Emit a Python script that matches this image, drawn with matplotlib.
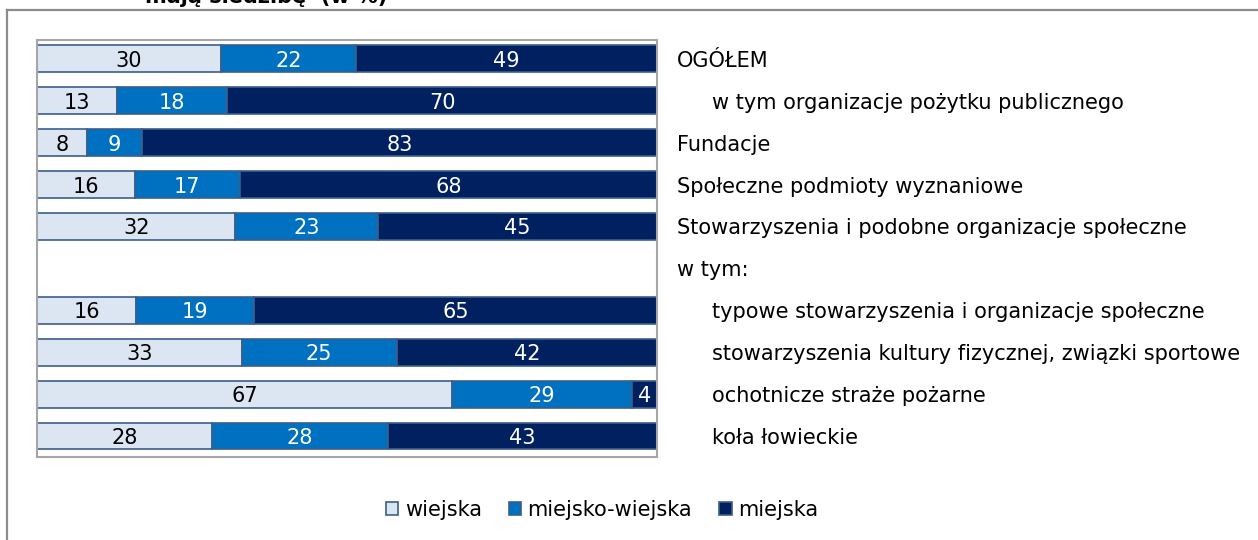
import numpy as np
import matplotlib

matplotlib.use("Agg")
import matplotlib.pyplot as plt
from matplotlib.lines import Line2D
from matplotlib.patches import Patch

# Organizacje wg typu gminy siedziby (w %)
categories = [
    "OGÓŁEM",
    "w tym organizacje pożytku publicznego",
    "Fundacje",
    "Społeczne podmioty wyznaniowe",
    "Stowarzyszenia i podobne organizacje społeczne",
    "w tym:",
    "typowe stowarzyszenia i organizacje społeczne",
    "stowarzyszenia kultury fizycznej, związki sportowe",
    "ochotnicze straże pożarne",
    "koła łowieckie",
]
indented = [False, True, False, False, False, False, True, True, True, True]

wiejska = [30, 13, 8, 16, 32, np.nan, 16, 33, 67, 28]
miejsko_wiejska = [22, 18, 9, 17, 23, np.nan, 19, 25, 29, 28]
miejska = [49, 70, 83, 68, 45, np.nan, 65, 42, 4, 43]

series_names = ["wiejska", "miejsko-wiejska", "miejska"]
colors = ["#dce6f2", "#0070c0", "#002060"]
text_colors = ["black", "white", "white"]
edge = "#3b5f8c"

W, H = 1258, 540
fig = plt.figure(figsize=(W / 100, H / 100), dpi=100)
plt.rcParams["font.family"] = ["DejaVu Sans"]

# outer frame (cut off on right and bottom)
fig.add_artist(Line2D([7 / W, 1], [1 - 10 / H, 1 - 10 / H], color="#8c8c8c", lw=1.6))
fig.add_artist(Line2D([7 / W, 7 / W], [1 - 10 / H, 0], color="#8c8c8c", lw=1.6))

# title remnant (upper part lies outside the picture, as in the source)
fig.text(145 / W, 1 - 3 / H, "mają siedzibę  (w %)", fontsize=15, fontweight="bold",
         ha="left", va="baseline")

ax = fig.add_axes([37 / W, 1 - 457 / H, 620 / W, 417 / H])

data = np.array([wiejska, miejsko_wiejska, miejska], dtype=float)
totals = np.nansum(data, axis=0)
shares = data / np.where(totals == 0, 1, totals) * 100
y = np.arange(len(categories))

left = np.zeros(len(categories))
for i in range(3):
    w = np.nan_to_num(shares[i])
    ax.barh(y, w, left=left, height=0.64, color=colors[i], edgecolor=edge, linewidth=1.2)
    for j in range(len(categories)):
        if not np.isnan(data[i, j]):
            ax.text(left[j] + w[j] / 2, y[j], f"{data[i, j]:.0f}", ha="center",
                    va="center_baseline", fontsize=15, color=text_colors[i])
    left += w

for j, (cat, ind) in enumerate(zip(categories, indented)):
    xpos = 1.0887 if ind else 1.032
    ax.text(xpos, y[j], cat, transform=ax.get_yaxis_transform(), ha="left",
            va="center_baseline", fontsize=15, color="black")

ax.set_xlim(0, 100)
ax.set_ylim(9.5, -0.45)
ax.set_xticks([])
ax.set_yticks([])
for s in ax.spines.values():
    s.set_color("#a6a6a6")
    s.set_linewidth(1.5)

handles = [Patch(facecolor=c, edgecolor=edge, linewidth=1.2) for c in colors]
fig.legend(handles, series_names, loc="center", bbox_to_anchor=(602 / W, 1 - 510 / H),
           ncol=3, frameon=False, fontsize=15, handlelength=0.6, handleheight=0.6,
           handletextpad=0.3, columnspacing=1.3, borderaxespad=0)

fig.savefig("out.png", dpi=100)
plt.close(fig)
